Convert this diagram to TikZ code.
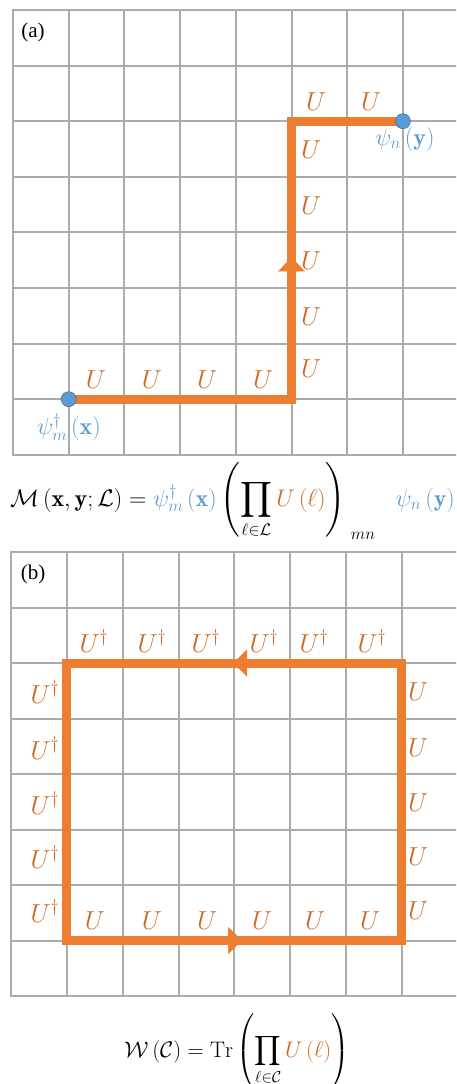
\RequirePackage{fix-cm}
\documentclass[tikz,border=0pt]{standalone}
\usepackage{amsmath}
\usepackage{fontspec}
\newfontfamily\panelfont{Liberation Serif}
\usetikzlibrary{arrows.meta,decorations.markings}
\definecolor{lineor}{HTML}{ED7D31}
\definecolor{textor}{HTML}{CC6A24}
\definecolor{dotblue}{HTML}{5B9BD5}
\definecolor{dotedge}{HTML}{41719C}
\definecolor{gridgray}{HTML}{ABABAB}
\tikzset{
  gridline/.style={gridgray, line width=2pt},
  pathline/.style={lineor, line width=9pt, line join=miter},
  arrowmark/.style={draw=none, postaction={decorate, decoration={markings,
      mark=at position #1 with {\arrow[lineor]{Triangle[width=27pt,length=14pt]}}}}},
  ulabel/.style={text=textor, font=\fontsize{26}{30}\selectfont, inner sep=0pt},
  psilabel/.style={text=dotblue, font=\fontsize{24}{28}\selectfont, inner sep=0pt},
  dotnode/.style={circle, fill=dotblue, draw=dotedge, line width=0.6pt, minimum size=15pt, inner sep=0pt},
  panellabel/.style={font=\panelfont\fontsize{21}{24}\selectfont, inner sep=0pt},
  eqnode/.style={font=\fontsize{24}{28}\selectfont, inner sep=0pt}
}
\begin{document}
\begin{tikzpicture}[x=1pt,y=-1pt]
\useasboundingbox (0,0) rectangle (456,1084);
\fill[white] (0,0) rectangle (456,1084);
% grids
\begin{scope}
\clip (0,0) rectangle (456,1084);
\foreach \i in {0,...,8} {
  \draw[gridline] ({13+55.7*\i},10) -- ({13+55.7*\i},454.8);
  \draw[gridline] (12,{10+55.6*\i}) -- (470,{10+55.6*\i});
  \draw[gridline] ({11+55.85*\i},552) -- ({11+55.85*\i},996);
  \draw[gridline] (10,{552+55.5*\i}) -- (470,{552+55.5*\i});
}
\end{scope}
% panel (a)
\node[panellabel] (la) at (33,32) {(a)};
\coordinate (aS) at (68.7,399.2);
\coordinate (aC1) at (291.5,399.2);
\coordinate (aC2) at (291.5,121.2);
\coordinate (aE) at (402.9,121.2);
\draw[pathline] (aS) -- (aC1) -- (aC2) -- (aE);
\path[arrowmark=0.51] (aC1) -- (aC2);
\node[dotnode] (dx) at (aS) {};
\node[dotnode] (dy) at (aE) {};
\node[psilabel] (psix) at (69,427) {$\psi^{\dagger}_{m}\left(\mathbf{x}\right)$};
\node[psilabel] (psiy) at (405,139) {$\psi_{n}\left(\mathbf{y}\right)$};
\foreach \x [count=\k] in {96,152,207,263}
  \node[ulabel] (ab\k) at (\x,380) {$U$};
\foreach \y [count=\k] in {150,206,261,317,369}
  \node[ulabel] (av\k) at (311,\y) {$U$};
\foreach \x [count=\k] in {316,371}
  \node[ulabel] (at\k) at (\x,102) {$U$};
\node[eqnode, anchor=base west] (eqa) at (10,506) {$\displaystyle
  \mathcal{M}\left(\mathbf{x},\mathbf{y};\mathcal{L}\right)=
  \textcolor{dotblue}{\psi^{\dagger}_{m}\left(\mathbf{x}\right)}
  \left(\prod_{\ell\in\mathcal{L}}\textcolor{textor}{U\left(\ell\right)}\right)_{\mkern6mu mn}
  \mkern12mu\textcolor{dotblue}{\psi_{n}\left(\mathbf{y}\right)}$};
% panel (b)
\node[panellabel] (lb) at (33,574) {(b)};
\coordinate (bBL) at (66.85,940.5);
\coordinate (bBR) at (401.95,940.5);
\coordinate (bTR) at (401.95,663);
\coordinate (bTL) at (66.85,663);
\draw[pathline] (bBL) -- (bBR) -- (bTR) -- (bTL) -- cycle;
\path[arrowmark=0.523] (bBL) -- (bBR);
\path[arrowmark=0.504] (bTR) -- (bTL);
\foreach \x [count=\k] in {94,152,206,264,314,372}
  \node[ulabel] (bt\k) at (\x,641) {$U^{\dagger}$};
\foreach \y [count=\k] in {692,748,803,857,911}
  \node[ulabel] (bl\k) at (45,\y) {$U^{\dagger}$};
\foreach \y [count=\k] in {692,748,803,857,911}
  \node[ulabel] (br\k) at (418,\y) {$U$};
\foreach \x [count=\k] in {95,152,207,262,315,370}
  \node[ulabel] (bb\k) at (\x,921) {$U$};
\node[eqnode, font=\fontsize{22.5}{26}\selectfont, anchor=base] (eqb) at (237,1057) {$\displaystyle
  \mathcal{W}\left(\mathcal{C}\right)=\mathrm{Tr}\left(\prod_{\ell\in\mathcal{C}}
  \textcolor{textor}{U\left(\ell\right)}\right)$};
\end{tikzpicture}
\end{document}
